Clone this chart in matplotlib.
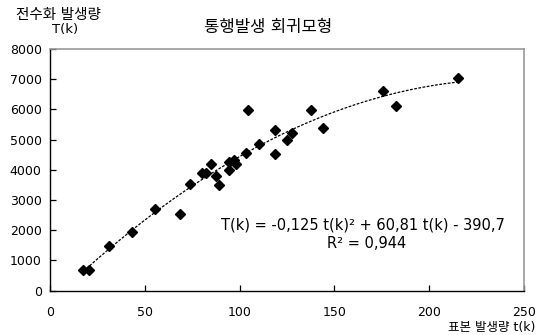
import matplotlib
matplotlib.use("Agg")
import matplotlib.pyplot as plt
import numpy as np

plt.rcParams['font.family'] = ['DejaVu Sans', 'Noto Sans CJK KR']

# 표본 발생량 t(k) / 전수화 발생량 T(k)
t_k = [17.5, 20.5, 31.2, 43.3, 55.3, 68.4, 73.7, 80.0, 82.5, 85.1,
       87.3, 89.1, 94.2, 94.3, 97.2, 98.2, 103.2, 104.4, 110.0, 118.9,
       118.9, 124.9, 127.8, 137.5, 143.9, 175.8, 182.6, 215.4]
T_k = [700, 700, 1470, 1950, 2700, 2530, 3520, 3900, 3890, 4190,
       3810, 3490, 4270, 3980, 4310, 4200, 4550, 5990, 4850, 5320,
       4510, 4980, 5210, 5980, 5400, 6610, 6100, 7040]

# 추세선 계수 (그림의 식)
coef = [-0.125, 60.81, -390.7]
r2 = 0.944

fig = plt.figure(figsize=(5.36, 3.35), dpi=100)
ax = fig.add_axes([50 / 536, 1 - 290.7 / 335, 474 / 536, (290.7 - 49) / 335])

ax.plot(t_k, T_k, linestyle='none', marker='D', markersize=5, color='black', zorder=3)

tt = np.linspace(min(t_k), max(t_k), 200)
ax.plot(tt, np.polyval(coef, tt), color='black', linewidth=0.9,
        linestyle=(0, (2.2, 1.2)), zorder=2)

ax.set_xlim(0, 250)
ax.set_ylim(0, 8000)
ax.set_xticks(np.arange(0, 251, 50))
ax.set_yticks(np.arange(0, 8001, 1000))
ax.tick_params(direction='in', length=4, width=0.9, labelsize=9, colors='black')
ax.tick_params(axis='x', pad=11)
ax.tick_params(axis='y', pad=6)

for s in ['top', 'right']:
    ax.spines[s].set_color('#999999')
    ax.spines[s].set_linewidth(1.2)
for s in ['left', 'bottom']:
    ax.spines[s].set_color('black')
    ax.spines[s].set_linewidth(1.0)

fig.text(268 / 536, 1 - 27 / 335, '통행발생 회귀모형', ha='center', va='center', fontsize=12)
fig.text(58 / 536, 1 - 14 / 335, '전수화 발생량', ha='center', va='center', fontsize=10.5)
fig.text(65 / 536, 1 - 30 / 335, 'T(k)', ha='center', va='center', fontsize=9.5)
fig.text(535 / 536, 1 - 334 / 335, '표본 발생량 t(k)', ha='right', va='bottom', fontsize=9)

eq = 'T(k) = %s t(k)² + %s t(k) - %s' % (
    ('%.3f' % coef[0]).replace('.', ','),
    ('%.2f' % coef[1]).replace('.', ','),
    ('%.1f' % -coef[2]).replace('.', ','))
fig.text(363 / 536, 1 - 225 / 335, eq, ha='center', va='center', fontsize=10.5)
fig.text(367 / 536, 1 - 244 / 335, 'R² = ' + ('%.3f' % r2).replace('.', ','),
         ha='center', va='center', fontsize=10.5)

fig.savefig('out.png', dpi=100)
